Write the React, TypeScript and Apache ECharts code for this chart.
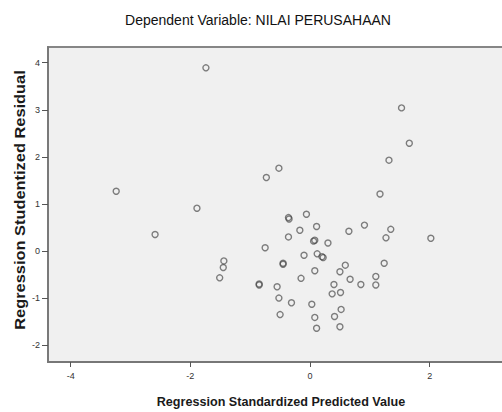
import React, { useEffect, useRef } from "react";
import * as echarts from "echarts";

const chartTitle = "Dependent Variable: NILAI PERUSAHAAN";
const xTitle = "Regression Standardized Predicted Value";
const yTitle = "Regression Studentized Residual";
const xTicks = [-4, -2, 0, 2];
const yTicks = [-2, -1, 0, 1, 2, 3, 4];

const predicted = [
  -1.74, -0.73, -0.52, 1.53, 1.66, 1.32, -3.24, -2.59, -1.89, -0.36,
  -0.35, -0.06, 0.11, -0.17, 0.65, -0.36, 0.08, 0.06, 0.30, -0.75,
  -0.10, 0.12, 0.22, 0.20, -1.44, -1.45, -1.51, -0.45, -0.45, 0.59,
  0.50, 0.08, -0.15, 0.67, 0.85, -0.85, -0.85, -0.55, 0.40, 0.37,
  0.51, -0.52, -0.31, 0.03, 0.52, -0.50, 0.08, 0.41, 0.11, 0.50,
  1.17, 0.91, 1.35, 1.27, 2.02, 1.24, 1.10, 1.10,
];
const residual = [
  3.89, 1.56, 1.76, 3.04, 2.29, 1.93, 1.27, 0.35, 0.91, 0.71,
  0.68, 0.78, 0.52, 0.44, 0.42, 0.30, 0.23, 0.21, 0.17, 0.07,
  -0.09, -0.06, -0.14, -0.12, -0.21, -0.35, -0.57, -0.28, -0.26, -0.30,
  -0.44, -0.42, -0.58, -0.60, -0.71, -0.72, -0.70, -0.76, -0.71, -0.91,
  -0.88, -1.00, -1.10, -1.13, -1.24, -1.35, -1.41, -1.39, -1.64, -1.61,
  1.21, 0.55, 0.46, 0.28, 0.27, -0.26, -0.54, -0.72,
];

export default function App() {
  const ref = useRef<HTMLDivElement>(null);
  useEffect(() => {
    if (!ref.current) return;
    const chart = echarts.init(ref.current, null, { renderer: "svg" });
    const data = predicted.map((x, i) => [x, residual[i]]);
    const labelStyle = {
      color: "#333",
      fontSize: 9,
      fontFamily: "Liberation Sans, Arial, sans-serif",
    };
    chart.setOption({
      animation: false,
      backgroundColor: "#ffffff",
      grid: {
        left: 48,
        top: 47,
        width: 466,
        height: 315,
        outerBoundsMode: "none",
        containLabel: false,
        show: true,
        backgroundColor: "#f0f0f0",
        borderColor: "#868686",
        borderWidth: 1.8,
      },
      xAxis: {
        type: "value",
        min: -4.38,
        max: 3.41,
        splitLine: { show: false },
        axisLine: { show: true, onZero: false, lineStyle: { color: "#777", width: 1.8 } },
        axisTick: { show: true, length: 5, customValues: xTicks, lineStyle: { color: "#555" } },
        axisLabel: { ...labelStyle, margin: 9, customValues: xTicks },
      },
      yAxis: {
        type: "value",
        min: -2.357,
        max: 4.333,
        splitLine: { show: false },
        axisLine: { show: true, onZero: false, lineStyle: { color: "#777", width: 1.8 } },
        axisTick: { show: true, length: 6, customValues: yTicks, lineStyle: { color: "#555" } },
        axisLabel: { ...labelStyle, margin: 8, customValues: yTicks },
      },
      graphic: [
        {
          type: "text",
          x: 258,
          y: 20,
          style: {
            text: chartTitle,
            align: "center",
            verticalAlign: "middle",
            fontSize: 14,
            fontFamily: "Liberation Sans, Arial, sans-serif",
            fill: "#111",
          },
        },
        {
          type: "text",
          x: 281,
          y: 402,
          style: {
            text: xTitle,
            align: "center",
            verticalAlign: "middle",
            fontSize: 12.6,
            fontWeight: "bold",
            fontFamily: "Liberation Sans, Arial, sans-serif",
            fill: "#1a1a1a",
          },
        },
        {
          type: "text",
          x: 20,
          y: 200,
          rotation: Math.PI / 2,
          scaleY: 0.85,
          style: {
            text: yTitle,
            align: "center",
            verticalAlign: "middle",
            fontSize: 16.4,
            fontWeight: "bold",
            fontFamily: "Liberation Sans, Arial, sans-serif",
            fill: "#1a1a1a",
          },
        },
      ],
      series: [
        {
          type: "scatter",
          data,
          symbol: "circle",
          symbolSize: 6,
          itemStyle: {
            color: "rgba(0,0,0,0)",
            borderColor: "rgba(70,70,70,0.85)",
            borderWidth: 1.4,
          },
          emphasis: { disabled: true },
        },
      ],
    });
    return () => chart.dispose();
  }, []);
  return (
    <div
      ref={ref}
      style={{ position: "fixed", left: 0, top: 0, width: 502, height: 412 }}
    />
  );
}
